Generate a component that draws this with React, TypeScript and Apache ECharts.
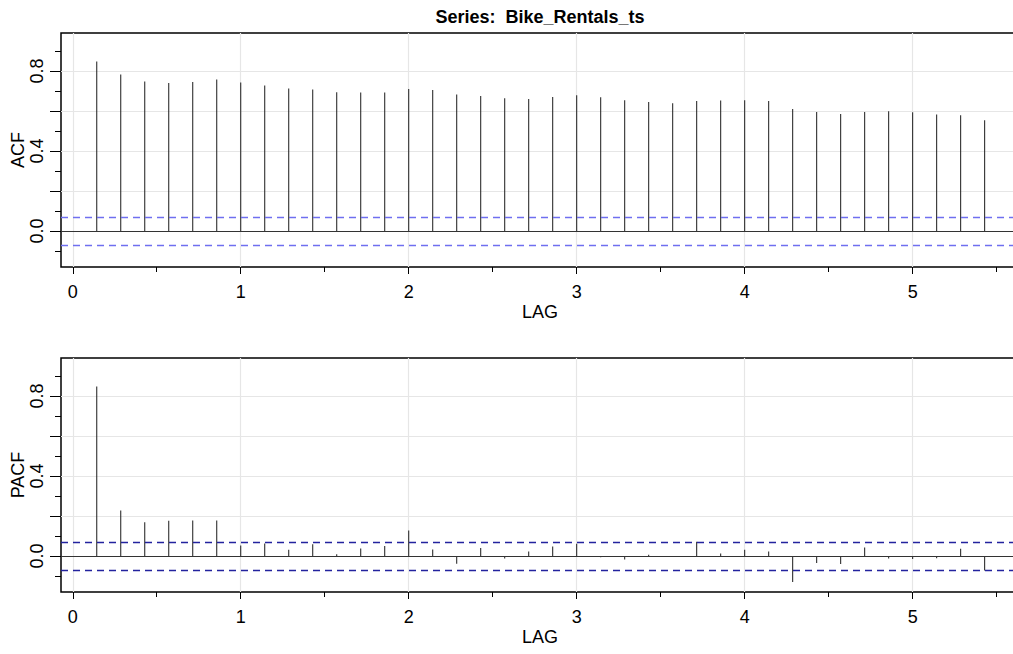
import React, { useEffect, useRef } from "react";
import * as echarts from "echarts";

const TITLE = "Series:  Bike_Rentals_ts";
const FREQ = 7;
const LAG_NUMBERS = [
  1, 2, 3, 4, 5, 6, 7, 8, 9, 10, 11, 12, 13, 14, 15, 16, 17, 18, 19,
  20, 21, 22, 23, 24, 25, 26, 27, 28, 29, 30, 31, 32, 33, 34, 35, 36, 37, 38,
];
const ACF = [
  0.848, 0.782, 0.748, 0.74, 0.745, 0.758, 0.742, 0.728, 0.712, 0.707, 0.694,
  0.692, 0.692, 0.71, 0.705, 0.682, 0.675, 0.664, 0.66, 0.67, 0.679, 0.669,
  0.654, 0.645, 0.639, 0.65, 0.652, 0.654, 0.65, 0.61, 0.595, 0.585, 0.595,
  0.599, 0.594, 0.582, 0.579, 0.554,
];
const PACF = [
  0.848, 0.227, 0.169, 0.176, 0.177, 0.177, 0.052, 0.062, 0.031, 0.059, 0.009,
  0.037, 0.05, 0.128, 0.033, -0.039, 0.04, -0.013, 0.023, 0.048, 0.061, -0.006,
  -0.018, 0.006, -0.004, 0.071, 0.013, 0.031, 0.023, -0.13, -0.035, -0.04,
  0.043, -0.012, -0.015, -0.011, 0.036, -0.072,
];
const CI = 0.074;
const X_LABELS = [0, 1, 2, 3, 4, 5];
const X_MINOR = [0.5, 1.5, 2.5, 3.5, 4.5, 5.5];
const Y_LABELS = [0, 0.4, 0.8];
const Y_MAJOR_TICKS = [0, 0.2, 0.4, 0.6, 0.8];
const Y_MINOR_TICKS = [-0.1, 0.1, 0.3, 0.5, 0.7, 0.9];
const Y_GRID = [0.2, 0.4, 0.6, 0.8];

const FONT = "'Liberation Sans', Arial, Helvetica, sans-serif";
const X_MIN = -0.07;
const X_MAX = 5.633;
const Y_MIN = -0.18;
const Y_MAX = 0.99;

export default function App() {
  const ref = useRef<HTMLDivElement>(null);
  useEffect(() => {
    if (!ref.current) return;
    const chart = echarts.init(ref.current, null, { renderer: "svg" });
    const panels = [
      { top: 33, name: "ACF", values: ACF, dash: "#6f6ff0" },
      { top: 358, name: "PACF", values: PACF, dash: "#23239e" },
    ];
    const grid: any[] = [];
    const xAxis: any[] = [];
    const yAxis: any[] = [];
    const series: any[] = [];
    const lags = LAG_NUMBERS.map((k) => k / FREQ);
    panels.forEach((p, i) => {
      grid.push({
        left: 61,
        top: p.top,
        width: 958,
        height: 234,
        show: true,
        borderColor: "#000",
        borderWidth: 1.5,
        backgroundColor: "transparent",
        containLabel: false,
        outerBoundsMode: "none",
      });
      const baseX = {
        type: "value",
        gridIndex: i,
        min: X_MIN,
        max: X_MAX,
        position: "bottom",
        axisLine: { show: false, onZero: false },
        splitLine: { show: false },
      };
      xAxis.push({
        ...baseX,
        axisTick: {
          show: true,
          customValues: X_LABELS,
          length: 7,
          lineStyle: { color: "#000", width: 1 },
        },
        axisLabel: {
          customValues: X_LABELS,
          margin: 16,
          fontSize: 18,
          color: "#000",
          fontFamily: FONT,
        },
        name: "LAG",
        nameLocation: "middle",
        nameGap: 36,
        nameMoveOverlap: false,
        nameTextStyle: { fontSize: 18, color: "#000", fontFamily: FONT },
      });
      xAxis.push({
        ...baseX,
        axisTick: {
          show: true,
          customValues: X_MINOR,
          length: 5,
          lineStyle: { color: "#000", width: 1 },
        },
        axisLabel: { show: false },
      });
      const baseY = {
        type: "value",
        gridIndex: i,
        min: Y_MIN,
        max: Y_MAX,
        position: "left",
        axisLine: { show: false, onZero: false },
        splitLine: { show: false },
      };
      yAxis.push({
        ...baseY,
        axisTick: {
          show: true,
          customValues: Y_MAJOR_TICKS,
          length: 11,
          lineStyle: { color: "#000", width: 1 },
        },
        axisLabel: {
          customValues: Y_LABELS,
          rotate: 90,
          margin: 15,
          fontSize: 18,
          color: "#000",
          fontFamily: FONT,
          formatter: (v: number) => v.toFixed(1),
        },
        name: p.name,
        nameLocation: "middle",
        nameRotate: 90,
        nameGap: 34,
        nameMoveOverlap: false,
        nameTextStyle: { fontSize: 18, color: "#000", fontFamily: FONT },
      });
      yAxis.push({
        ...baseY,
        axisTick: {
          show: true,
          customValues: Y_MINOR_TICKS,
          length: 6,
          lineStyle: { color: "#000", width: 1 },
        },
        axisLabel: { show: false },
      });
      series.push({
        type: "scatter",
        xAxisIndex: 2 * i,
        yAxisIndex: 2 * i,
        data: [],
        z: 1,
        silent: true,
        markLine: {
          silent: true,
          z: 1,
          symbol: ["none", "none"],
          label: { show: false },
          lineStyle: { color: "#e6e6e6", width: 1.2, type: "solid" },
          data: [
            ...X_LABELS.map((x) => ({ xAxis: x })),
            ...Y_GRID.map((y) => ({ yAxis: y })),
          ],
        },
      });
      series.push({
        type: "bar",
        xAxisIndex: 2 * i,
        yAxisIndex: 2 * i,
        data: lags.map((x, k) => [x, p.values[k]]),
        barWidth: 1,
        itemStyle: { color: "#1a1a1a" },
        z: 3,
        silent: true,
        markLine: {
          silent: true,
          z: 4,
          symbol: ["none", "none"],
          label: { show: false },
          data: [
            { yAxis: 0, lineStyle: { color: "#333", width: 1, type: "solid" } },
            { yAxis: CI, lineStyle: { color: p.dash, width: 1.4, type: [7, 5] } },
            { yAxis: -CI, lineStyle: { color: p.dash, width: 1.4, type: [7, 5] } },
          ],
        },
      });
    });
    chart.setOption({
      animation: false,
      backgroundColor: "#fff",
      grid,
      xAxis,
      yAxis,
      series,
      graphic: [
        {
          type: "text",
          x: 540,
          y: 17,
          style: {
            text: TITLE,
            fontSize: 18,
            fontWeight: "bold",
            fontFamily: FONT,
            fill: "#000",
            align: "center",
            verticalAlign: "middle",
            textAlign: "center",
            textVerticalAlign: "middle",
          },
        },
      ],
    });
    return () => chart.dispose();
  }, []);
  return (
    <div
      ref={ref}
      style={{
        position: "fixed",
        left: 0,
        top: 0,
        width: 1013,
        height: 654,
        background: "#fff",
      }}
    />
  );
}
